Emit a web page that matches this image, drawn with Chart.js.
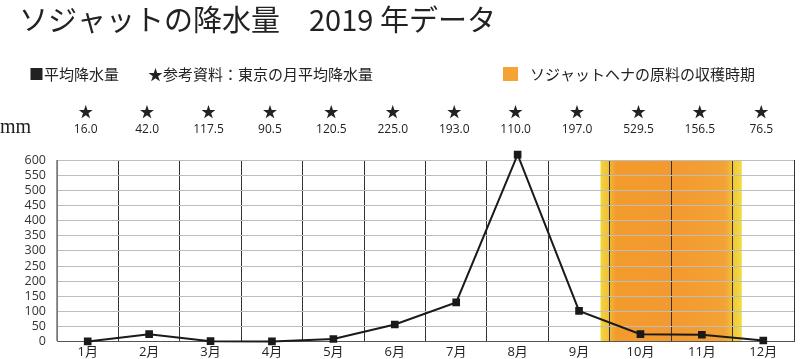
<!DOCTYPE html>
<html>
<head>
<meta charset="utf-8">
<script src="https://cdn.jsdelivr.net/npm/chart.js@4.4.0/dist/chart.umd.min.js"></script>
<style>
  body { margin: 0; background: #fff; }
  #wrap { width: 800px; height: 359px; position: relative; }
</style>
</head>
<body>
<div id="wrap"><canvas id="chart"></canvas></div>
<script>
// data
var months = ['1月', '2月', '3月', '4月', '5月', '6月', '7月', '8月', '9月', '10月', '11月', '12月'];
var rainfall = [1, 25, 2, 1, 9, 57, 130, 618, 102, 25, 23, 4];
var tokyoRef = ['16.0', '42.0', '117.5', '90.5', '120.5', '225.0', '193.0', '110.0', '197.0', '529.5', '156.5', '76.5'];
var harvestRange = [8.35, 10.65]; // in month-index units on the x scale

var title = 'ソジャットの降水量　2019 年データ';
var legendRain = '■平均降水量';
var legendTokyo = '★参考資料：東京の月平均降水量';
var legendHarvest = 'ソジャットヘナの原料の収穫時期';

var cjk = "'Noto Sans CJK JP', sans-serif";
var num = "'Open Sans', 'Noto Sans CJK JP', sans-serif";

var harvestBand = {
    id: 'harvestBand',
    beforeDraw: function(chart) {
        var ctx = chart.ctx, x = chart.scales.x, area = chart.chartArea;
        var x0 = x.getPixelForValue(harvestRange[0]);
        var x1 = x.getPixelForValue(harvestRange[1]);
        var g = ctx.createLinearGradient(x0, 0, x1, 0);
        g.addColorStop(0, '#f1d53a');
        g.addColorStop(0.05, '#f2c23a');
        g.addColorStop(0.11, '#f39b2d');
        g.addColorStop(0.5, '#f29a2f');
        g.addColorStop(0.88, '#f3a235');
        g.addColorStop(0.95, '#f2cb3a');
        g.addColorStop(1, '#f3da45');
        ctx.save();
        ctx.fillStyle = g;
        ctx.fillRect(x0, area.top, x1 - x0, area.bottom - area.top);
        ctx.restore();
    }
};

var headerText = {
    id: 'headerText',
    afterDraw: function(chart) {
        var ctx = chart.ctx, x = chart.scales.x;
        ctx.save();
        ctx.fillStyle = '#222';
        ctx.textBaseline = 'middle';
        ctx.textAlign = 'left';

        ctx.font = '29px ' + cjk;
        ctx.fillText(title, 19, 20);

        ctx.font = '15px ' + cjk;
        ctx.fillText(legendRain, 29, 74);
        ctx.fillText(legendTokyo, 148, 74);
        ctx.fillStyle = '#f5a332';
        ctx.fillRect(503, 67, 15, 14);
        ctx.fillStyle = '#222';
        ctx.fillText(legendHarvest, 530, 74);

        ctx.font = "20px 'Liberation Serif', serif";
        ctx.fillText('mm', 0, 128);

        ctx.textAlign = 'center';
        for (var i = 0; i < tokyoRef.length; i++) {
            var px = x.getPixelForValue(i) - 2;
            ctx.font = '15px ' + cjk;
            ctx.fillText('★', px, 111);
            ctx.font = '12px ' + num;
            ctx.fillText(tokyoRef[i], px, 130);
        }
        ctx.restore();
    }
};

var config = {
    type: 'line',
    data: {
        labels: months,
        datasets: [{
            label: '平均降水量',
            data: rainfall,
            borderColor: '#1a1a1a',
            borderWidth: 2,
            backgroundColor: '#1a1a1a',
            pointStyle: 'rect',
            pointRadius: 4,
            pointHoverRadius: 4,
            tension: 0,
            clip: false
        }]
    },
    options: {
        responsive: true,
        maintainAspectRatio: false,
        animation: false,
        layout: { padding: { top: 160, right: 3, left: 0, bottom: 0 } },
        plugins: {
            legend: { display: false },
            title: { display: false },
            tooltip: { enabled: false }
        },
        scales: {
            x: {
                offset: true,
                grid: {
                    offset: true,
                    drawTicks: false,
                    color: function(c) { return (c.index === 0 || c.index === 12) ? '#999' : '#333'; },
                    lineWidth: 1
                },
                border: { color: '#555', width: 1 },
                ticks: {
                    padding: 3,
                    color: '#222',
                    font: { family: num, size: 13 },
                    maxRotation: 0,
                    autoSkip: false
                },
                afterFit: function(s) { s.height = 16; }
            },
            y: {
                min: 0,
                max: 600,
                grid: { drawTicks: false, color: '#bdbdbd', lineWidth: 1 },
                border: { color: '#777', width: 1 },
                ticks: {
                    stepSize: 50,
                    autoSkip: false,
                    padding: 11,
                    color: '#333',
                    font: { family: num, size: 12.5, lineHeight: 1 }
                },
                afterFit: function(s) { s.width = 57; }
            }
        }
    },
    plugins: [harvestBand, headerText]
};

window.onload = function() {
    var ctx = document.getElementById('chart').getContext('2d');
    window.rainChart = new Chart(ctx, config);
};
</script>
</body>
</html>
